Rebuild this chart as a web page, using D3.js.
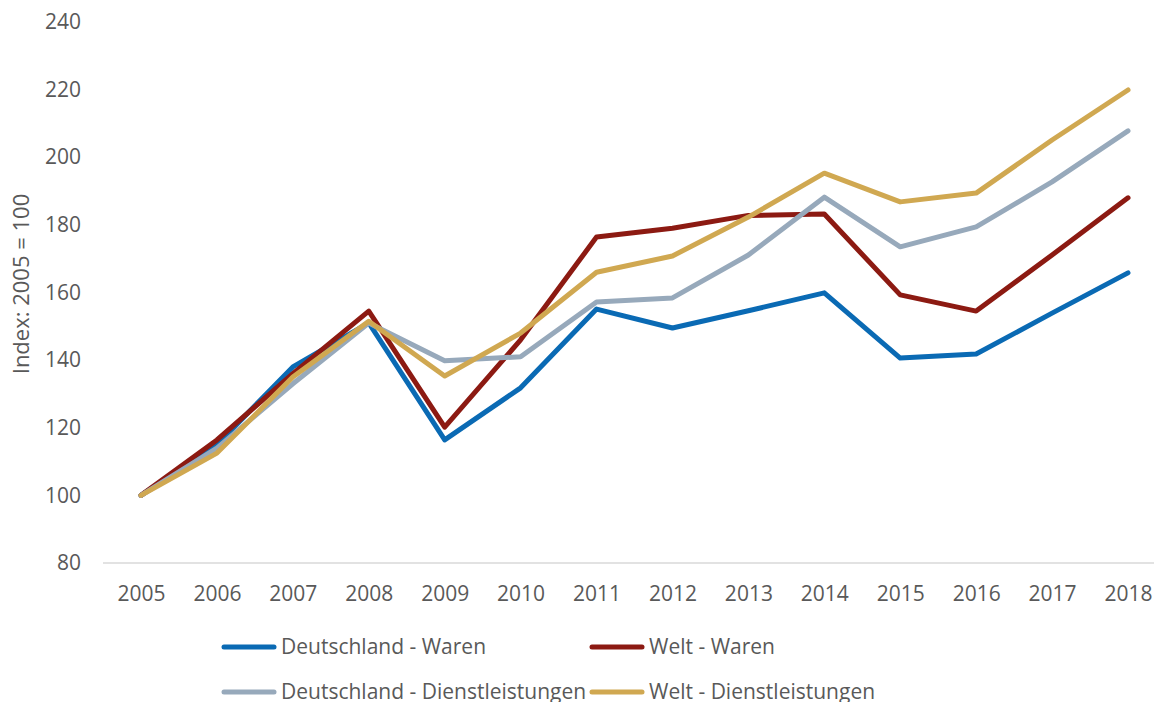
<!DOCTYPE html>
<html>
<head>
<meta charset="utf-8">
<script src="https://cdn.jsdelivr.net/npm/d3@7/dist/d3.min.js"></script>
<style>
  html, body { margin: 0; padding: 0; background: #fff; }
  svg { display: block; font-family: "Open Sans", sans-serif; }
</style>
</head>
<body>
<div id="chart"></div>
<script>
/* Data */
const YEARS = ["2005","2006","2007","2008","2009","2010","2011","2012","2013","2014","2015","2016","2017","2018"]
const DE_WAREN = [100, 115, 138, 151, 116.4, 131.8, 155.1, 149.5, 154.6, 159.9, 140.6, 141.8, 153.9, 165.8]
const WELT_WAREN = [100, 116.4, 136, 154.5, 120.2, 146, 176.4, 179, 182.8, 183.2, 159.3, 154.5, 171.1, 188]
const DE_DIENST = [100, 114, 133, 151, 139.8, 141, 157.2, 158.4, 171.1, 188.2, 173.5, 179.4, 192.7, 207.8]
const WELT_DIENST = [100, 112.5, 135, 151.5, 135.3, 148, 166, 170.8, 182.3, 195.3, 186.8, 189.4, 205.1, 219.9]
const SERIES_NAMES = ["Deutschland - Waren", "Welt - Waren", "Deutschland - Dienstleistungen", "Welt - Dienstleistungen"]
const Y_TICKS = [80, 100, 120, 140, 160, 180, 200, 220, 240]

/* Layout constants */
const WIDTH = 1154
const HEIGHT = 702
const TEXT_COLOR = "#595959"
const FONT_SIZE = "21px"
const COLORS = ["#0a6ab4", "#8c1a12", "#97a9bb", "#d0a851"]
const LINE_WIDTH = 5

const series = [DE_WAREN, WELT_WAREN, DE_DIENST, WELT_DIENST].map((values, i) => ({
  name: SERIES_NAMES[i],
  color: COLORS[i],
  values: values.map((v, j) => ({ year: YEARS[j], value: v }))
}));

const svg = d3.select("#chart")
              .append("svg")
              .attr("width", WIDTH)
              .attr("height", HEIGHT);

const xScale = d3.scalePoint()
                 .domain(YEARS)
                 .range([141, 1128]);
const yScale = d3.scaleLinear()
                 .domain([80, 240])
                 .range([563, 22]);

/* Baseline at 80 */
svg.append("line")
   .attr("x1", 103)
   .attr("x2", WIDTH)
   .attr("y1", yScale(80))
   .attr("y2", yScale(80))
   .attr("stroke", "#d9d9d9")
   .attr("stroke-width", 1.5);

/* Y axis labels */
const yAxis = d3.axisLeft(yScale).tickValues(Y_TICKS).tickSize(0).tickPadding(0);
const yG = svg.append("g")
              .attr("transform", "translate(81, 0)")
              .call(yAxis);
yG.select(".domain").remove();
yG.selectAll("text")
  .attr("fill", TEXT_COLOR)
  .style("font-size", FONT_SIZE)
  .style("font-family", "'Open Sans', sans-serif");

/* X axis labels */
const xAxis = d3.axisBottom(xScale).tickSize(0).tickPadding(0);
const xG = svg.append("g")
              .attr("transform", "translate(0, 586)")
              .call(xAxis);
xG.select(".domain").remove();
xG.selectAll("text")
  .attr("fill", TEXT_COLOR)
  .style("font-size", FONT_SIZE)
  .style("font-family", "'Open Sans', sans-serif");

/* Axis title */
svg.append("text")
   .attr("transform", "translate(29, 284) rotate(-90)")
   .attr("text-anchor", "middle")
   .attr("fill", TEXT_COLOR)
   .style("font-size", "22px")
   .text("Index: 2005 = 100");

/* Lines */
const line = d3.line()
               .x((d) => xScale(d.year))
               .y((d) => yScale(d.value));
svg.selectAll("path.series")
   .data(series)
   .enter()
   .append("path")
   .attr("class", "series")
   .attr("d", (d) => line(d.values))
   .attr("fill", "none")
   .attr("stroke", (d) => d.color)
   .attr("stroke-width", LINE_WIDTH)
   .attr("stroke-linejoin", "round")
   .attr("stroke-linecap", "round");

/* Legend */
const legendPos = [[222, 647], [590, 647], [222, 692], [590, 692]];
const legend = svg.selectAll("g.legend")
                  .data(series)
                  .enter()
                  .append("g")
                  .attr("class", "legend")
                  .attr("transform", (d, i) => "translate(" + legendPos[i][0] + ", " + legendPos[i][1] + ")");
legend.append("line")
      .attr("x1", 2)
      .attr("x2", 52)
      .attr("stroke", (d) => d.color)
      .attr("stroke-width", 5)
      .attr("stroke-linecap", "round");
legend.append("text")
      .attr("x", 59)
      .attr("dy", "0.35em")
      .attr("fill", TEXT_COLOR)
      .style("font-size", FONT_SIZE)
      .text((d) => d.name);
</script>
</body>
</html>
